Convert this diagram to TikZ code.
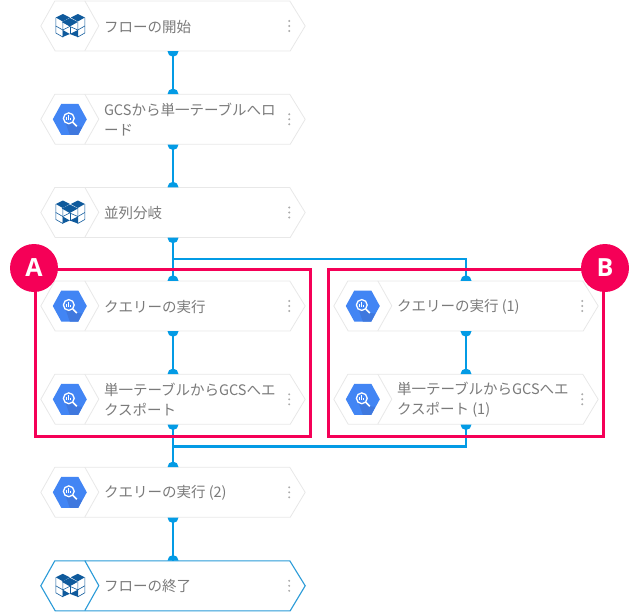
\documentclass[tikz,border=0pt]{standalone}
\usepackage{fontspec}
\setmainfont{Noto Sans CJK JP}
\newfontfamily\badgefont{Open Sans}
\definecolor{flowblue}{HTML}{039BE5}
\definecolor{endblue}{HTML}{2A9BD8}
\definecolor{boxpink}{HTML}{F50057}
\definecolor{cardgray}{HTML}{E8E8E8}
\definecolor{textgray}{HTML}{7A7A7A}
\definecolor{dotgray}{HTML}{ABABAB}
\definecolor{bqblue}{HTML}{4285F4}
\definecolor{bqdark}{HTML}{3F78DE}
\definecolor{mtnblue}{HTML}{0F5A9C}
\tikzset{
	card/.style={minimum width=264pt, minimum height=50pt, inner sep=0pt},
	cardlabel/.style={anchor=west, inner sep=0pt, yshift=-0.7pt, align=left, text=textgray, font=\fontsize{14.5}{20}\selectfont},
	cardline/.style={draw=cardgray, line width=0.8pt},
	endline/.style={draw=endblue, line width=1.1pt},
	flowline/.style={draw=flowblue, line width=2.8pt},
	groupbox/.style={draw=boxpink, line width=3pt},
	badge/.style={circle, fill=boxpink, minimum size=48pt, inner sep=0pt, text=white, font=\badgefont\bfseries\fontsize{25}{25}\selectfont},
	plugout/.pic={\fill[flowblue] (-5.5pt,0pt) arc (180:360:5.5pt) -- cycle;},
	plugin/.pic={\fill[flowblue] (-5.5pt,0pt) arc (180:0:5.5pt) -- cycle;},
	menudots/.pic={\foreach \d in {-5,0,5} \fill[dotgray] (0,\d) circle (1.1pt);},
	bqicon/.pic={
		\fill[bqblue] (-17,0) -- (-8.5,-15.5) -- (8.5,-15.5) -- (17,0) -- (8.5,15.5) -- (-8.5,15.5) -- cycle;
		\fill[bqdark] (3,3) -- (7,7) -- (12.5,7.5) -- (8.5,15.5) -- (0,15.5) -- (-4,4) -- cycle;
		\draw[white, line width=1.3pt] (-1,-1) circle (5.4pt);
		\draw[white, line width=1.5pt] (3,3) -- (7,7);
		\fill[white] (-3.4,-2) rectangle (-2.4,1);
		\fill[white] (-1.6,-4) rectangle (-0.6,1);
		\fill[white] (0.2,-1) rectangle (1.2,1);
	},
	mtnicon/.pic={
		\fill[mtnblue] (-7,-12) -- (0,-8.5) -- (-7,-4.5) -- (-14,-8.5) -- cycle;
		\fill[mtnblue] (8,-12) -- (15,-8.5) -- (8,-4.5) -- (1,-8.5) -- cycle;
		\fill[mtnblue] (0,-8) -- (8,-4) -- (0,0.5) -- (-8,-4) -- cycle;
		\draw[mtnblue, line width=0.6pt] (-14,-8.5) -- (-14,7) -- (-7,11) -- (-7,-4.5);
		\draw[mtnblue, line width=0.6pt] (15,-8.5) -- (15,7) -- (8,11) -- (8,-4.5);
		\draw[mtnblue, line width=0.6pt] (-14,0) -- (-7,4) -- (0,0.5) -- (8,4) -- (15,0);
		\draw[mtnblue, line width=0.6pt] (0,0.5) -- (0,8);
		\fill[mtnblue] (-7,4) -- (0,8) -- (-7,11) -- cycle;
		\fill[mtnblue] (8,4) -- (0,8) -- (8,11) -- cycle;
	},
}
\begin{document}
\begin{tikzpicture}[x=1pt, y=-1pt]
	\useasboundingbox (0,0) rectangle (639,613);
	
	\foreach \nm/\x/\y in {start/173/26, load/173/119.3, fork/173/212.5, query/173/306, export/173/399.3, query2/173/492.3, finish/173/585.8, queryb/466/306, exportb/466/399.3}
		\node[card] (\nm) at (\x,\y) {};
	
	\foreach \nm in {start, load, fork, query, export, query2, queryb, exportb}{
		\draw[cardline, fill=white] (\nm.west) -- ++(14,-25) -- ++(235,0) -- (\nm.east) -- ++(-15,25) -- ++(-235,0) -- cycle;
		\draw[cardline] ([xshift=44pt]\nm.north west) -- ++(14,25) -- ++(-14,25);
	}
	\draw[endline, fill=white] (finish.west) -- ++(14,-25) -- ++(235,0) -- (finish.east) -- ++(-15,25) -- ++(-235,0) -- cycle;
	\draw[endline] ([xshift=44pt]finish.north west) -- ++(14,25) -- ++(-14,25);
	
	\foreach \nm in {load, query, export, query2, queryb, exportb}
		\pic at ([xshift=29pt]\nm.west) {bqicon};
	\foreach \nm in {start, fork, finish}
		\pic at ([xshift=29pt]\nm.west) {mtnicon};
	\foreach \nm in {start, load, fork, query, export, query2, finish, queryb, exportb}
		\pic at ([xshift=-16pt]\nm.east) {menudots};
	
	\node[cardlabel] (startlabel) at ([xshift=63pt]start.west) {フローの開始};
	\node[cardlabel] (loadlabel) at ([xshift=63pt]load.west) {GCSから単一テーブルへロ\\ード};
	\node[cardlabel] (forklabel) at ([xshift=63pt]fork.west) {並列分岐};
	\node[cardlabel] (querylabel) at ([xshift=63pt]query.west) {クエリーの実行};
	\node[cardlabel] (exportlabel) at ([xshift=63pt]export.west) {単一テーブルからGCSへエ\\クスポート};
	\node[cardlabel] (query2label) at ([xshift=63pt]query2.west) {クエリーの実行 (2)};
	\node[cardlabel] (finishlabel) at ([xshift=63pt]finish.west) {フローの終了};
	\node[cardlabel] (queryblabel) at ([xshift=63pt]queryb.west) {クエリーの実行 (1)};
	\node[cardlabel] (exportblabel) at ([xshift=63pt]exportb.west) {単一テーブルからGCSへエ\\クスポート (1)};
	
	\coordinate (forkbend) at (173,259);
	\coordinate (joinbend) at (173,446.5);
	\draw[flowline] (start.south) -- (load.north);
	\draw[flowline] (load.south) -- (fork.north);
	\draw[flowline] (fork.south) -- (query.north);
	\draw[flowline] (forkbend) -| (queryb.north);
	\draw[flowline] (query.south) -- (export.north);
	\draw[flowline] (queryb.south) -- (exportb.north);
	\draw[flowline] (export.south) -- (query2.north);
	\draw[flowline] (exportb.south) |- (joinbend);
	\draw[flowline] (query2.south) -- (finish.north);
	
	\foreach \nm in {start, load, fork, query, queryb, export, exportb, query2}
		\pic at (\nm.south) {plugout};
	\foreach \nm in {load, fork, query, queryb, export, exportb, query2, finish}
		\pic at (\nm.north) {plugin};
	
	\draw[groupbox] (35,269) rectangle (310.5,436.5);
	\draw[groupbox] (328.5,269) rectangle (603.5,436.5);
	\node[badge] (a) at (34,268) {A};
	\node[badge] (b) at (605,268) {B};
	
\end{tikzpicture}
\end{document}
